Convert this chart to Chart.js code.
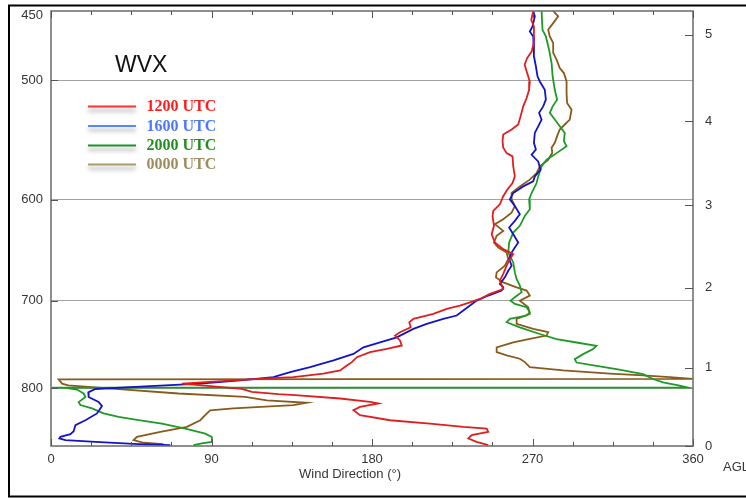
<!DOCTYPE html>
<html>
<head>
<meta charset="utf-8">
<title>WVX wind direction profiles</title>
<script src="https://cdn.jsdelivr.net/npm/chart.js@4/dist/chart.umd.min.js"></script>
<style>
  html, body { margin: 0; padding: 0; background: #ffffff; }
  canvas { display: block; }
</style>
</head>
<body>
<canvas id="chart" width="746" height="498"></canvas>
<script>
// Station and sounding times
const STATION = 'WVX';
const SERIES_LABELS = ['1200 UTC', '1600 UTC', '2000 UTC', '0000 UTC'];

// Axis tick values
const DIRECTION_LABEL_TICKS = [0, 90, 180, 270, 360];
const DIRECTION_MINOR_STEP = 22.5;
const PRESSURE_TICKS = [450, 500, 600, 700, 800];
const PRESSURE_TOP = 450;
const PRESSURE_SURFACE = 874;
const AGL_KM = [0, 1, 2, 3, 4, 5];
const AGL_PRESSURE = [874, 775.6, 686.3, 605.2, 532.6, 466.7];

// 1200 UTC: wind direction (deg) and pressure (hPa)
const dir1200 = [270.4,269.3,270.8,270.8,269.5,267.0,265.6,267.0,268.5,268.1,266.7,264.8,263.3,262.0,258.3,253.6,253.2,253.6,255.5,258.8,259.2,260.1,258.8,255.8,253.6,251.7,248.0,247.6,248.4,247.1,248.9,253.6,259.2,257.3,255.5,253.6,251.7,253.6,246.1,240.5,234.9,229.3,221.9,214.4,203.2,200.9,201.7,195.7,192.9,195.7,196.7,188.3,178.9,171.5,168.7,165.9,162.1,152.7,135.9,126.6,102.2,73.4,107.0,112.6,127.5,136.9,162.1,178.9,183.6,173.3,169.6,173.3,190.1,212.5,231.2,244.3,245.2,235.9,234.0,238.7,245.2];
const pres1200 = [450,456.1,460.8,472.5,478.7,483.5,488.5,494.7,501.1,507.5,513.9,520.5,528.5,535.1,539.2,543.3,548.9,554.4,559.0,561.8,570.4,579.2,585.1,591.1,597.0,604.4,610.6,615.2,624.6,632.6,640.7,647.2,652.1,657.1,663.8,672.1,679.1,687.8,693.0,698.3,701.9,705.5,709.0,714.4,719.8,723.6,729.2,734.7,738.4,744.0,749.7,753.5,757.4,763.2,769.0,772.9,778.8,782.7,786.7,787.7,790.7,794.7,801.0,804.8,807.6,808.8,812.9,817.1,819.1,823.4,827.6,833.9,840.3,844.6,848.9,851.1,855.4,859.7,864.0,868.5,872.8];

// 1600 UTC
const dir1600 = [270.4,271.3,270.0,268.5,270.4,270.8,270.8,271.9,272.8,274.1,276.9,277.5,276.0,273.7,275.1,273.2,271.3,270.8,271.9,269.5,273.2,274.5,271.3,270.4,264.8,259.2,257.3,260.1,262.9,260.1,256.9,259.2,262.0,260.1,258.3,256.9,258.3,256.4,254.5,251.7,253.6,252.7,245.2,238.7,231.2,227.5,220.0,210.7,203.2,193.9,184.5,175.2,169.6,158.4,145.3,134.1,124.7,106.1,83.7,52.9,24.9,20.9,21.1,26.7,28.6,25.8,19.3,13.7,12.7,10.9,5.3,4.7,8.1,24.9,49.1,66.9];
const pres1600 = [450,453.7,460.8,464.3,467.8,472.5,482.2,489.6,497.2,501.1,507.5,515.2,520.5,525.7,531.1,536.6,542.0,550.3,555.9,560.4,566.1,573.3,579.2,583.6,588.1,594.1,599.9,606.0,613.7,619.9,626.2,632.6,640.7,645.6,650.6,657.1,663.8,668.9,675.7,682.5,686.0,689.5,694.7,700.1,710.8,716.2,719.8,725.4,731.0,740.4,746.1,751.8,759.4,767.0,774.8,780.8,786.7,790.7,794.7,798.0,801.2,805.3,811.0,817.1,822.4,831.6,840.3,846.7,854.5,858.4,861.9,864.0,866.2,868.5,871.5,872.8];

// 2000 UTC (passes through north: 357.5 -> 0.5)
const dir2000 = [275.1,275.6,277.5,279.3,280.7,281.3,282.5,283.8,281.3,279.7,282.5,285.3,288.1,287.6,289.1,283.5,277.9,275.1,273.2,272.3,269.5,268.1,268.5,265.7,262.9,259.2,256.9,256.4,259.2,260.1,261.1,262.9,263.9,260.1,257.7,260.1,266.7,268.5,266.7,257.3,255.5,262.9,274.1,283.5,294.7,305.9,304.0,298.4,293.7,294.7,305.9,317.1,332.0,337.6,343.2,352.5,357.5,0.5,8.1,14.6,18.3,19.3,15.5,16.5,23.0,29.5,37.9,49.1,62.2,75.3,86.5,90.2,90.2,84.6,79.9];
const pres2000 = [450,463.1,467.8,477.4,487.2,497.2,507.5,515.2,520.5,525.7,531.1,536.6,542.0,548.9,553.1,559.0,564.7,570.4,579.2,585.1,594.1,599.9,609.0,615.2,624.6,631.1,640.7,650.6,660.5,670.6,677.5,684.3,691.2,696.5,700.1,703.6,707.2,712.7,716.2,719.8,723.6,729.2,736.7,742.4,746.3,750.0,753.9,759.7,765.5,769.5,773.4,777.3,783.2,789.1,793.2,797.2,799.6,799.6,799.9,801.9,806.7,811.0,817.4,821.1,825.2,831.6,836.0,840.3,844.6,851.1,857.6,862.0,868.5,870.6,872.8];

// 0000 UTC (passes through north: 359.8 -> 4.3)
const dir0000 = [281.6,284.4,281.6,278.8,279.7,281.6,281.6,283.5,285.3,287.6,289.1,289.1,289.4,291.9,290.9,288.1,285.3,283.8,282.5,280.7,281.1,278.8,274.1,272.3,268.5,262.9,258.3,258.3,260.1,258.3,253.6,248.9,253.6,249.9,248.4,250.8,255.5,256.4,254.5,249.9,249.5,253.6,261.1,266.7,268.5,262.9,267.6,268.5,261.1,261.1,270.4,278.8,277.9,268.5,259.2,249.9,249.9,255.5,262.9,265.7,268.5,287.2,313.3,332.0,346.9,359.8,4.3,6.2,9.7,34.2,71.5,108.9,121.0,143.4,135.9,102.3,89.3,87.4,83.7,76.2,61.3,48.2,46.3,51.9,63.1];
const pres0000 = [450,453.7,458.4,463.1,467.8,472.5,479.7,484.7,490.9,494.7,501.1,510.0,517.8,523.1,531.1,535.1,539.2,544.7,550.3,554.4,558.7,564.7,570.4,576.3,582.1,588.1,594.1,599.9,606.0,612.1,618.3,623.0,629.4,634.2,640.7,645.6,650.6,657.1,663.8,670.6,675.7,680.9,686.0,689.5,694.7,700.1,707.2,714.4,719.8,725.4,731.0,734.7,738.4,742.1,746.1,751.8,757.4,761.2,765.0,769.0,774.8,778.8,782.7,784.7,786.7,788.8,789.6,794.7,796.7,800.7,806.7,810.8,815.1,818.2,821.1,825.2,827.6,831.6,840.3,848.9,855.4,862.0,866.2,869.7,871.5];

// Styling
const LINE_COLORS = ['#df1f1f', '#1414c2', '#1e9a26', '#8a5a1c'];
const LEGEND_LINE_COLORS = ['#ff3030', '#5b86ff', '#1f9126', '#ab9c6c'];
const LEGEND_TEXT_COLORS = ['#ff1c1c', '#4a78ff', '#1f8f1f', '#9c8c5e'];
const TEXT_COLOR = '#363636';
const AXIS_FONT = '"Liberation Sans", Arial, sans-serif';

function toPoints(dirs, pres) {
  return dirs.map((d, i) => ({ x: d, y: pres[i] }));
}

const profiles = [
  toPoints(dir1200, pres1200),
  toPoints(dir1600, pres1600),
  toPoints(dir2000, pres2000),
  toPoints(dir0000, pres0000)
];

const datasets = profiles.map((pts, i) => ({
  label: SERIES_LABELS[i],
  data: pts,
  showLine: true,
  borderColor: LINE_COLORS[i],
  backgroundColor: LINE_COLORS[i],
  borderWidth: 1.8,
  pointRadius: 0,
  pointHoverRadius: 0,
  tension: 0,
  fill: false
}));

// Vertical axes: fixed width, no extra room reserved for edge labels
function fixVertical(width) {
  return s => {
    s.width = width;
    s.paddingTop = 0;
    s.paddingBottom = 0;
  };
}

// Frame, inward tick marks, station name, legend and axis captions
const decorations = {
  id: 'decorations',
  beforeDraw(chart) {
    const ctx = chart.ctx;
    ctx.save();
    ctx.fillStyle = '#ffffff';
    ctx.fillRect(0, 0, chart.width, chart.height);
    ctx.restore();
  },
  afterDraw(chart) {
    const { ctx, chartArea: a, scales } = chart;
    const xs = scales.x, ys = scales.y, hs = scales.agl;
    ctx.save();

    // plot frame
    ctx.strokeStyle = '#6a6a6a';
    ctx.lineWidth = 1.5;
    ctx.strokeRect(a.left, a.top, a.right - a.left, a.bottom - a.top);

    // direction ticks, top and bottom, pointing inward
    ctx.strokeStyle = '#555555';
    ctx.lineWidth = 1;
    for (let v = 0; v <= 360; v += DIRECTION_MINOR_STEP) {
      const px = Math.round(xs.getPixelForValue(v)) + 0.5;
      const len = v % 90 === 0 ? 7 : 4;
      ctx.beginPath();
      ctx.moveTo(px, a.bottom);
      ctx.lineTo(px, a.bottom - len);
      ctx.moveTo(px, a.top);
      ctx.lineTo(px, a.top + len);
      ctx.stroke();
    }
    // pressure ticks on the left
    PRESSURE_TICKS.forEach(p => {
      if (p === PRESSURE_TOP) return;
      const py = Math.round(ys.getPixelForValue(p)) + 0.5;
      ctx.beginPath();
      ctx.moveTo(a.left, py);
      ctx.lineTo(a.left + 7, py);
      ctx.stroke();
    });
    // height ticks on the right
    AGL_PRESSURE.forEach(p => {
      const py = Math.round(hs.getPixelForValue(p)) + 0.5;
      ctx.beginPath();
      ctx.moveTo(a.right - 8, py);
      ctx.lineTo(a.right, py);
      ctx.stroke();
    });

    // top pressure label, nudged below the frame edge
    ctx.fillStyle = TEXT_COLOR;
    ctx.font = '13px ' + AXIS_FONT;
    ctx.textAlign = 'right';
    ctx.textBaseline = 'middle';
    ctx.fillText(String(PRESSURE_TOP), a.left - 8, ys.getPixelForValue(PRESSURE_TOP) + 4);

    // station name
    ctx.fillStyle = '#111111';
    ctx.font = '23px ' + AXIS_FONT;
    ctx.textAlign = 'left';
    ctx.textBaseline = 'alphabetic';
    ctx.fillText(STATION, 115, 72);

    // legend
    const legendY = [106.5, 126, 145.5, 164.5];
    SERIES_LABELS.forEach((lab, i) => {
      const y = legendY[i];
      ctx.save();
      ctx.shadowColor = 'rgba(0,0,0,0.35)';
      ctx.shadowBlur = 4;
      ctx.shadowOffsetY = 4;
      ctx.strokeStyle = LEGEND_LINE_COLORS[i];
      ctx.lineWidth = 2;
      ctx.beginPath();
      ctx.moveTo(88, y);
      ctx.lineTo(136, y);
      ctx.stroke();
      ctx.restore();
      ctx.fillStyle = LEGEND_TEXT_COLORS[i];
      ctx.font = 'bold 16px "Liberation Serif", "Times New Roman", serif';
      ctx.textBaseline = 'middle';
      ctx.fillText(lab, 146.5, y + 0.5);
    });

    // axis captions
    ctx.fillStyle = TEXT_COLOR;
    ctx.font = '13px ' + AXIS_FONT;
    ctx.textBaseline = 'middle';
    ctx.textAlign = 'center';
    ctx.fillText('Wind Direction (°)', 350, 474);
    ctx.textAlign = 'left';
    ctx.fillText('AGL', 723, 467);

    // outer border
    ctx.strokeStyle = '#000000';
    ctx.lineWidth = 2;
    ctx.strokeRect(9, 5.5, 760, 491);

    ctx.restore();
  }
};

new Chart(document.getElementById('chart'), {
  type: 'scatter',
  data: { datasets },
  plugins: [decorations],
  options: {
    responsive: false,
    animation: false,
    devicePixelRatio: 1,
    layout: { padding: { top: 11, left: 0, right: 0, bottom: 0 } },
    plugins: {
      legend: { display: false },
      tooltip: { enabled: false },
      title: { display: false }
    },
    scales: {
      x: {
        type: 'linear',
        position: 'bottom',
        min: 0,
        max: 360,
        afterBuildTicks: s => { s.ticks = DIRECTION_LABEL_TICKS.map(v => ({ value: v })); },
        afterFit: s => { s.height = 52; s.paddingLeft = 0; s.paddingRight = 0; },
        grid: { display: false, drawTicks: false },
        border: { display: false },
        ticks: {
          padding: 6,
          color: TEXT_COLOR,
          font: { family: AXIS_FONT, size: 13 },
          maxRotation: 0,
          autoSkip: false
        }
      },
      y: {
        type: 'logarithmic',
        position: 'left',
        reverse: true,
        min: PRESSURE_TOP,
        max: PRESSURE_SURFACE,
        afterBuildTicks: s => { s.ticks = PRESSURE_TICKS.map(v => ({ value: v })); },
        afterFit: fixVertical(51),
        grid: {
          drawTicks: false,
          color: c => (c.tick && c.tick.value === PRESSURE_TOP) ? 'rgba(0,0,0,0)' : '#a3a3a3',
          lineWidth: 1
        },
        border: { display: false },
        ticks: {
          padding: 8,
          color: TEXT_COLOR,
          font: { family: AXIS_FONT, size: 13 },
          callback: v => (v === PRESSURE_TOP ? '' : String(v)),
          autoSkip: false
        }
      },
      agl: {
        type: 'logarithmic',
        position: 'right',
        reverse: true,
        min: PRESSURE_TOP,
        max: PRESSURE_SURFACE,
        afterBuildTicks: s => { s.ticks = AGL_PRESSURE.map(v => ({ value: v })); },
        afterFit: fixVertical(53),
        grid: { display: false, drawTicks: false },
        border: { display: false },
        ticks: {
          padding: 12,
          color: TEXT_COLOR,
          font: { family: AXIS_FONT, size: 13 },
          callback: (v, i) => String(AGL_KM[i]),
          autoSkip: false
        }
      }
    }
  }
});
</script>
</body>
</html>
